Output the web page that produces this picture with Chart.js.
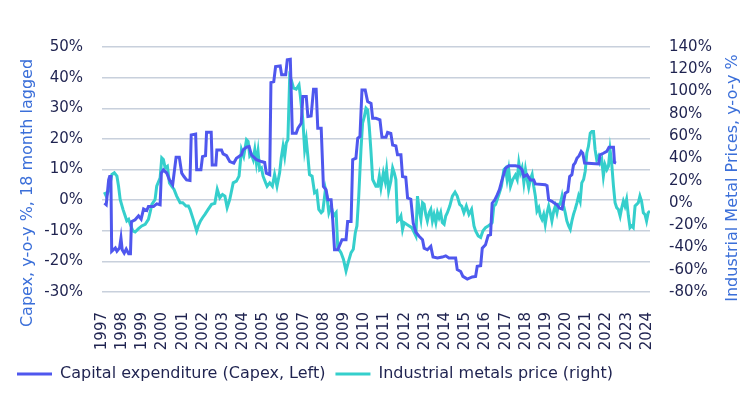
<!DOCTYPE html>
<html>
<head>
<meta charset="utf-8">
<script src="https://cdn.jsdelivr.net/npm/chart.js@4"></script>
<style>
  html, body { margin: 0; padding: 0; background: #fff; }
  #wrap { width: 753px; height: 394px; }
</style>
</head>
<body>
<div id="wrap"><canvas id="chart"></canvas></div>
<script>
// Capex y-o-y %, 18 month lagged (left axis); x = decimal year
const capexDates = [1997.12, 1997.21, 1997.33, 1997.38, 1997.44, 1997.48, 1997.66, 1997.74, 1997.87, 1997.94,
  1998.0, 1998.1, 1998.2, 1998.32, 1998.41, 1998.46, 1998.64, 1998.81, 1998.94, 1999.06,
  1999.22, 1999.3, 1999.55, 1999.71, 1999.88, 1999.94, 2000.04, 2000.21, 2000.34, 2000.5,
  2000.67, 2000.83, 2000.95, 2001.06, 2001.19, 2001.36, 2001.42, 2001.64, 2001.69, 2001.9,
  2001.98, 2002.13, 2002.18, 2002.41, 2002.46, 2002.64, 2002.69, 2002.92, 2003.0, 2003.17,
  2003.33, 2003.53, 2003.66, 2003.91, 2003.99, 2004.16, 2004.29, 2004.4, 2004.65, 2004.9,
  2005.06, 2005.14, 2005.31, 2005.37, 2005.51, 2005.6, 2005.83, 2005.9, 2006.1, 2006.18,
  2006.33, 2006.43, 2006.62, 2006.71, 2006.87, 2006.95, 2007.12, 2007.2, 2007.36, 2007.48,
  2007.61, 2007.69, 2007.86, 2007.97, 2008.1, 2008.19, 2008.35, 2008.43, 2008.52, 2008.68,
  2008.89, 2009.09, 2009.17, 2009.34, 2009.42, 2009.58, 2009.67, 2009.78, 2009.88, 2010.04,
  2010.16, 2010.33, 2010.41, 2010.57, 2010.77, 2010.87, 2011.07, 2011.15, 2011.31, 2011.4,
  2011.56, 2011.64, 2011.81, 2011.89, 2012.05, 2012.14, 2012.3, 2012.42, 2012.55, 2012.71,
  2012.88, 2012.96, 2013.12, 2013.29, 2013.4, 2013.62, 2013.86, 2014.03, 2014.19, 2014.52,
  2014.6, 2014.77, 2014.88, 2015.1, 2015.34, 2015.51, 2015.59, 2015.76, 2015.84, 2016.0,
  2016.13, 2016.25, 2016.33, 2016.46, 2016.58, 2016.69, 2016.82, 2016.99, 2017.15, 2017.48,
  2017.65, 2017.81, 2017.9, 2018.06, 2018.22, 2018.39, 2018.47, 2018.96, 2019.05, 2019.13,
  2019.29, 2019.42, 2019.54, 2019.66, 2019.79, 2019.87, 2019.95, 2020.08, 2020.17, 2020.28,
  2020.36, 2020.44, 2020.53, 2020.64, 2020.74, 2020.82, 2020.91, 2021.6, 2021.68, 2021.84,
  2022.01, 2022.12, 2022.34, 2022.39, 2022.47];
const capexValues = [-1.0, -1.5, 6.6, 7.7, 7.7, -16.7, -15.6, -16.7, -15.6, -12.4,
  -16.2, -17.3, -16.0, -17.5, -17.5, -7.0, -6.4, -5.1, -6.2, -2.9,
  -3.4, -2.1, -2.1, -1.2, -1.5, 8.8, 9.9, 8.8, 6.6, 5.0,
  14.0, 14.0, 8.8, 7.7, 6.6, 6.4, 21.3, 21.6, 9.9, 9.9,
  14.2, 14.5, 22.2, 22.2, 11.5, 11.5, 16.4, 16.4, 15.1, 14.5,
  12.6, 12.1, 13.7, 14.8, 16.4, 17.3, 17.5, 14.8, 13.2, 12.6,
  12.3, 8.8, 8.3, 38.4, 38.7, 43.6, 43.8, 40.9, 40.9, 45.8,
  46.0, 21.8, 21.8, 23.5, 25.1, 33.8, 33.8, 27.3, 27.5, 36.2,
  36.2, 23.5, 23.5, 4.5, 3.4, 0.1, 0.1, -6.4, -16.2, -16.2,
  -12.9, -12.9, -7.0, -7.0, 13.2, 13.7, 20.2, 20.8, 36.0, 36.0,
  32.2, 31.6, 26.7, 26.7, 26.2, 20.5, 20.5, 22.1, 21.8, 18.0,
  17.7, 14.8, 14.8, 7.7, 7.5, 0.7, 0.3, -7.5, -10.5, -11.8,
  -12.9, -15.7, -16.2, -15.1, -18.6, -18.9, -18.6, -18.2, -18.9, -18.9,
  -22.7, -23.3, -24.9, -25.8, -25.1, -24.9, -21.6, -21.4, -15.7, -14.6,
  -11.6, -11.3, -1.0, 0.1, 1.7, 3.4, 6.6, 10.4, 11.2, 11.2,
  11.0, 9.9, 7.7, 8.3, 6.6, 6.6, 5.3, 5.0, 4.7, 0.1,
  -0.4, -1.0, -1.5, -2.6, -2.9, -0.4, 2.3, 2.8, 7.7, 8.3,
  11.5, 12.1, 13.7, 14.5, 15.9, 15.3, 12.1, 11.8, 14.8, 15.3,
  15.9, 17.3, 17.3, 12.3, 12.1];

// Industrial metals price y-o-y % (right axis)
const metalDates = [1997.12, 1997.21, 1997.33, 1997.49, 1997.61, 1997.74, 1997.82, 1997.9, 1998.04, 1998.15,
  1998.23, 1998.32, 1998.4, 1998.53, 1998.64, 1998.81, 1998.97, 1999.14, 1999.3, 1999.38,
  1999.47, 1999.63, 1999.71, 1999.88, 1999.96, 2000.04, 2000.13, 2000.24, 2000.34, 2000.45,
  2000.57, 2000.7, 2000.87, 2001.0, 2001.16, 2001.28, 2001.36, 2001.52, 2001.69, 2001.77,
  2001.88, 2001.98, 2002.1, 2002.26, 2002.43, 2002.59, 2002.71, 2002.84, 2002.97, 2003.09,
  2003.2, 2003.33, 2003.5, 2003.66, 2003.79, 2003.91, 2004.02, 2004.16, 2004.24, 2004.32,
  2004.4, 2004.49, 2004.57, 2004.65, 2004.73, 2004.81, 2004.9, 2004.98, 2005.11, 2005.18,
  2005.31, 2005.44, 2005.55, 2005.67, 2005.8, 2005.88, 2005.97, 2006.05, 2006.13, 2006.21,
  2006.3, 2006.38, 2006.49, 2006.62, 2006.76, 2006.82, 2006.95, 2007.04, 2007.12, 2007.2,
  2007.28, 2007.41, 2007.53, 2007.64, 2007.74, 2007.86, 2007.94, 2008.07, 2008.14, 2008.24,
  2008.35, 2008.47, 2008.6, 2008.68, 2008.84, 2008.96, 2009.09, 2009.22, 2009.34, 2009.45,
  2009.55, 2009.63, 2009.72, 2009.83, 2009.91, 2010.0, 2010.08, 2010.16, 2010.24, 2010.32,
  2010.41, 2010.57, 2010.66, 2010.74, 2010.82, 2010.94, 2011.03, 2011.1, 2011.2, 2011.31,
  2011.4, 2011.48, 2011.56, 2011.64, 2011.73, 2011.81, 2011.89, 2011.97, 2012.09, 2012.22,
  2012.35, 2012.47, 2012.55, 2012.63, 2012.71, 2012.8, 2012.88, 2012.96, 2013.04, 2013.12,
  2013.21, 2013.29, 2013.37, 2013.45, 2013.54, 2013.62, 2013.7, 2013.78, 2013.86, 2013.95,
  2014.03, 2014.11, 2014.23, 2014.36, 2014.49, 2014.6, 2014.72, 2014.82, 2014.93, 2015.05,
  2015.18, 2015.31, 2015.43, 2015.51, 2015.64, 2015.76, 2015.87, 2016.0, 2016.13, 2016.25,
  2016.33, 2016.41, 2016.5, 2016.58, 2016.69, 2016.79, 2016.91, 2016.99, 2017.07, 2017.15,
  2017.24, 2017.35, 2017.48, 2017.57, 2017.65, 2017.73, 2017.81, 2017.9, 2017.98, 2018.06,
  2018.14, 2018.22, 2018.31, 2018.39, 2018.47, 2018.55, 2018.64, 2018.72, 2018.8, 2018.88,
  2018.96, 2019.05, 2019.13, 2019.21, 2019.29, 2019.38, 2019.46, 2019.54, 2019.62, 2019.7,
  2019.79, 2019.87, 2019.95, 2020.03, 2020.12, 2020.2, 2020.28, 2020.36, 2020.44, 2020.53,
  2020.61, 2020.69, 2020.77, 2020.86, 2020.94, 2021.02, 2021.1, 2021.19, 2021.27, 2021.35,
  2021.43, 2021.51, 2021.6, 2021.68, 2021.76, 2021.84, 2021.92, 2022.01, 2022.09, 2022.17,
  2022.25, 2022.34, 2022.42, 2022.5, 2022.58, 2022.67, 2022.75, 2022.83, 2022.91, 2022.99,
  2023.08, 2023.16, 2023.24, 2023.32, 2023.41, 2023.49, 2023.57, 2023.65, 2023.73, 2023.82,
  2023.9, 2023.98, 2024.06, 2024.15];
const metalValues = [9.7, 6.1, 10.6, 25.5, 27.0, 24.0, 15.0, 3.1, -5.8, -11.8,
  -16.2, -14.8, -19.2, -25.2, -26.1, -23.1, -20.7, -19.2, -14.8, -8.8,
  -1.3, 3.1, 15.0, 22.5, 40.4, 38.9, 31.4, 32.9, 18.0, 15.0,
  12.1, 6.1, 0.1, 0.1, -2.8, -2.8, -5.8, -14.8, -25.2, -20.7,
  -16.2, -13.3, -10.3, -5.8, -1.3, -0.4, 12.1, 4.6, 7.6, 6.1,
  -4.3, 3.1, 18.0, 19.5, 24.0, 47.8, 41.9, 56.8, 55.3, 41.9,
  43.4, 38.9, 47.8, 35.9, 46.3, 29.9, 31.4, 24.0, 18.0, 15.0,
  18.0, 15.0, 25.5, 15.0, 27.0, 40.4, 50.8, 41.9, 53.8, 56.8,
  113.4, 110.4, 103.0, 102.1, 106.0, 97.0, 74.7, 47.8, 56.8, 41.9,
  25.5, 24.0, 9.1, 10.6, -5.8, -8.8, -7.3, 12.1, 6.1, -8.8,
  -2.8, -11.8, -8.8, -40.1, -44.6, -50.5, -61.0, -52.0, -44.6, -41.6,
  -26.7, -20.7, 6.1, 47.8, 71.7, 77.6, 85.1, 83.6, 68.7, 47.8,
  21.0, 15.0, 15.0, 24.0, 13.6, 27.0, 19.5, 29.9, 10.6, 19.5,
  31.4, 27.0, 21.0, -16.2, -14.8, -11.8, -23.7, -17.7, -19.2, -20.7,
  -22.2, -26.7, -29.7, 6.1, -5.8, -14.8, 0.1, -1.3, -10.3, -16.2,
  -8.8, -5.8, -16.2, -10.3, -17.7, -8.8, -13.3, -8.8, -17.7, -19.2,
  -11.8, -8.8, -2.8, 6.1, 9.7, 6.1, -1.3, -2.8, -8.8, -2.8,
  -10.3, -5.8, -20.7, -25.2, -29.7, -31.1, -25.2, -22.2, -20.7, -19.2,
  -17.7, -2.8, -1.3, 3.1, 9.1, 15.0, 29.9, 31.4, 21.0, 29.9,
  15.0, 21.0, 25.0, 21.0, 35.9, 27.0, 31.4, 18.0, 29.9, 21.0,
  13.6, 21.0, 25.5, 15.0, 6.1, -7.3, -4.3, -11.8, -14.8, -10.3,
  -19.2, -8.8, -2.8, -8.8, -16.2, -7.3, -2.8, -8.8, -1.3, -1.3,
  6.1, -2.8, -8.8, -16.2, -20.7, -23.7, -16.2, -10.3, -5.8, 0.1,
  6.1, 1.6, 18.0, 21.0, 28.5, 44.8, 50.8, 62.7, 64.2, 64.2,
  47.8, 38.9, 41.9, 35.9, 38.9, 24.0, 34.4, 29.9, 32.9, 47.8,
  35.9, 15.0, 0.1, -4.3, -5.8, -11.8, -4.3, 1.6, -2.8, 3.1,
  -11.8, -22.2, -20.7, -22.2, -2.8, -1.3, 0.1, 6.1, 1.6, -8.8,
  -10.3, -16.2, -8.8, -7.3];

// axis ticks
const yearTicks = [1997, 1998, 1999, 2000, 2001, 2002, 2003, 2004, 2005, 2006, 2007, 2008, 2009, 2010,
  2011, 2012, 2013, 2014, 2015, 2016, 2017, 2018, 2019, 2020, 2021, 2022, 2023, 2024];
const leftTicks = [-30, 50, 10];
const rightTicks = [-80, 140, 20];

const tickColor = '#1f2350';
const titleColor = '#3b6fd9';
const fontFamily = "'DejaVu Sans', sans-serif";

function pairs(xs, ys) {
    return xs.map((x, i) => ({ x: x, y: ys[i] }));
}

// draws the two rotated axis titles
const axisTitles = {
    id: 'axisTitles',
    afterDraw(chart) {
        const ctx = chart.ctx;
        const titles = [
            ['Capex, y-o-y %, 18 month lagged', 28, 193],
            ['Industrial Metal Prices, y-o-y %', 733, 178]
        ];
        titles.forEach(t => {
            ctx.save();
            ctx.font = '16px ' + fontFamily;
            ctx.fillStyle = titleColor;
            ctx.textAlign = 'center';
            ctx.textBaseline = 'middle';
            ctx.translate(t[1], t[2]);
            ctx.rotate(-Math.PI / 2);
            ctx.fillText(t[0], 0, 0);
            ctx.restore();
        });
    }
};

new Chart(document.getElementById('chart'), {
    type: 'line',
    data: {
        datasets: [{
            label: 'Capital expenditure (Capex, Left)',
            data: pairs(capexDates, capexValues),
            borderColor: '#4f57ee',
            backgroundColor: '#4f57ee',
            borderWidth: 3,
            pointRadius: 0,
            yAxisID: 'y'
        }, {
            label: 'Industrial metals price (right)',
            data: pairs(metalDates, metalValues),
            borderColor: '#35cfcc',
            backgroundColor: '#35cfcc',
            borderWidth: 3,
            pointRadius: 0,
            yAxisID: 'y1'
        }]
    },
    options: {
        responsive: true,
        maintainAspectRatio: false,
        animation: false,
        layout: { padding: { top: 47, left: 7, right: 0, bottom: 2 } },
        plugins: {
            tooltip: { enabled: false },
            legend: {
                position: 'bottom',
                align: 'start',
                labels: {
                    usePointStyle: true,
                    pointStyle: 'line',
                    pointStyleWidth: 35,
                    padding: 10,
                    color: tickColor,
                    font: { family: fontFamily, size: 16 }
                }
            }
        },
        scales: {
            x: {
                type: 'linear',
                min: yearTicks[0],
                max: 2024.15,
                grid: { display: false },
                border: { display: false },
                afterBuildTicks(scale) {
                    scale.ticks = yearTicks.map(v => ({ value: v }));
                },
                afterFit(scale) { scale.height = 64; },
                ticks: {
                    autoSkip: false,
                    minRotation: 90,
                    maxRotation: 90,
                    padding: 12,
                    color: tickColor,
                    font: { family: fontFamily, size: 15 },
                    callback: v => String(v)
                }
            },
            y: {
                position: 'left',
                min: leftTicks[0],
                max: leftTicks[1],
                border: { display: false },
                grid: { color: '#c8d0dc', lineWidth: 1.5, drawTicks: false },
                afterFit(scale) { scale.width = 95; },
                ticks: {
                    stepSize: leftTicks[2],
                    padding: 19,
                    color: tickColor,
                    font: { family: fontFamily, size: 15 },
                    callback: v => v + '%'
                }
            },
            y1: {
                position: 'right',
                min: rightTicks[0],
                max: rightTicks[1],
                border: { display: false },
                grid: { drawOnChartArea: false, drawTicks: false },
                afterFit(scale) { scale.width = 103; },
                ticks: {
                    stepSize: rightTicks[2],
                    padding: 19,
                    color: tickColor,
                    font: { family: fontFamily, size: 15 },
                    callback: v => v + '%'
                }
            }
        }
    },
    plugins: [axisTitles]
});
</script>
</body>
</html>
